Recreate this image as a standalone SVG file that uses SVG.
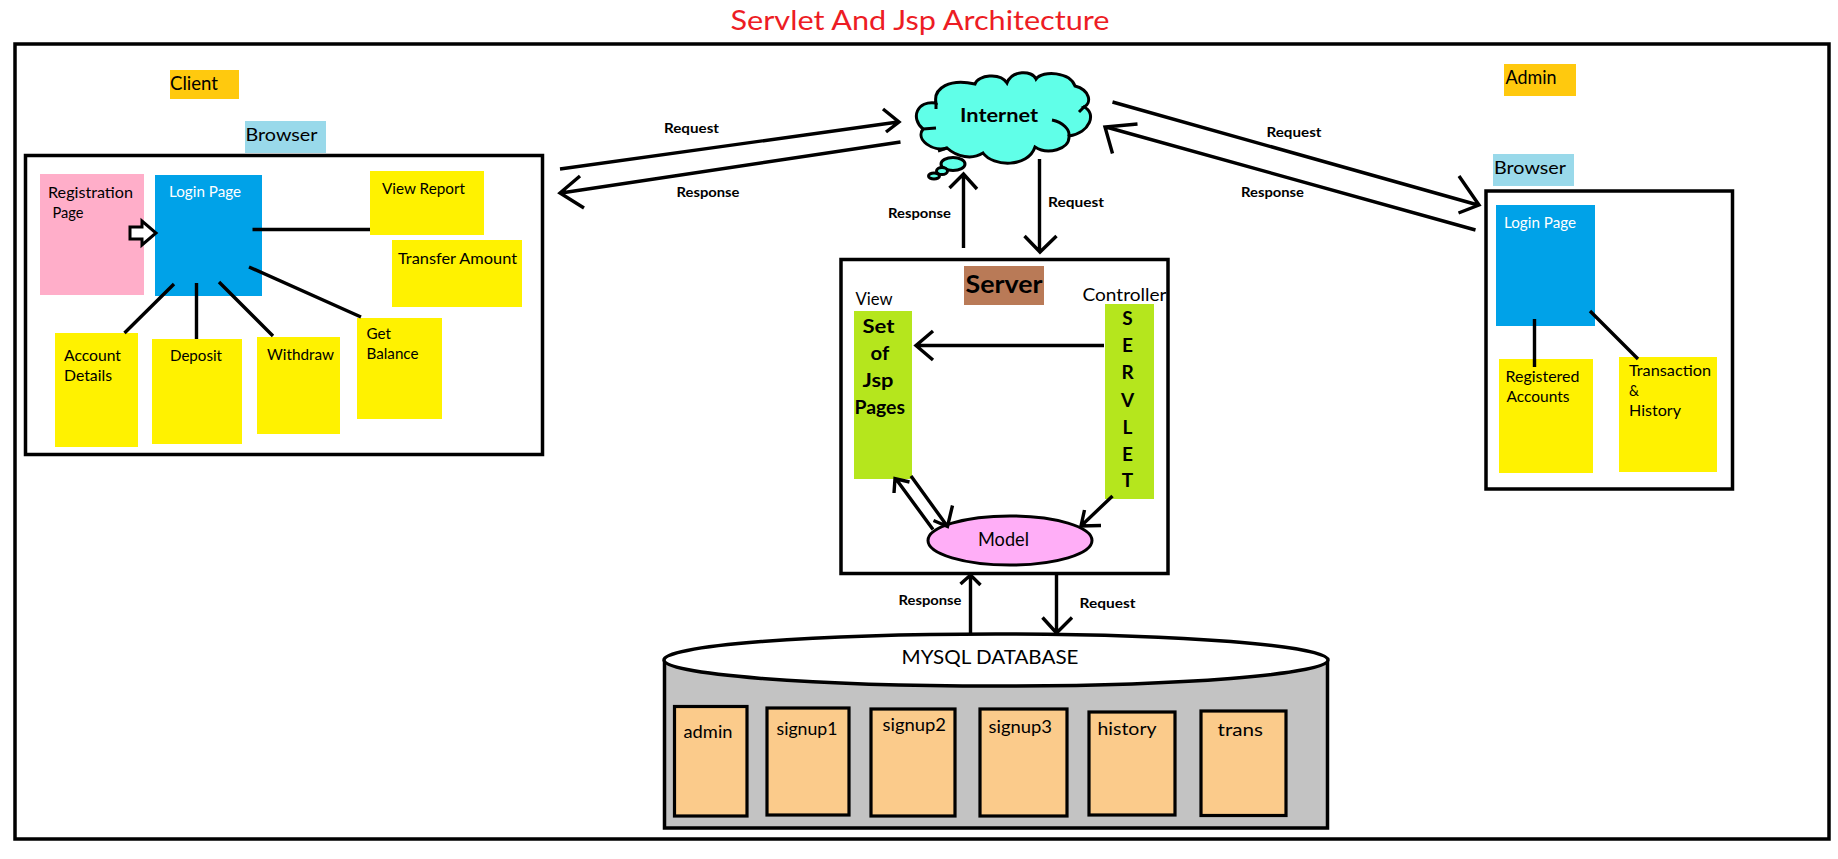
<svg xmlns="http://www.w3.org/2000/svg" width="1838" height="859" viewBox="0 0 1838 859">
<style>
text{font-family:"Lato","Open Sans","DejaVu Sans",sans-serif;fill:#000;font-size:16px}
.lbl{font-size:14px;font-weight:700}
.big{font-size:19px}
.bold{font-weight:700}
.box{fill:#fff;stroke:#000;stroke-width:3.5}
.yel{fill:#FFF200}.blue{fill:#00A2E8}.org{fill:#FFC90E}.sky{fill:#99D9EA}.grn{fill:#B5E61D}
.tbl{fill:#FBCB8B;stroke:#000;stroke-width:3.2}
.ln{fill:none;stroke:#000;stroke-width:3.4;stroke-linecap:butt;stroke-linejoin:miter}
.cl{fill:#60FFE8;stroke:#000;stroke-width:3}
</style>
<rect width="1838" height="859" fill="#fff"/>
<text id="title" x="730.5" y="29.5" style="font-size:27px;fill:#ED1C24" textLength="379" lengthAdjust="spacingAndGlyphs">Servlet And Jsp Architecture</text>
<rect id="frame" class="box" x="15" y="44" width="1814" height="795"/>

<g id="client-label"><rect class="org" x="170" y="70" width="69" height="29"/><text class="big" x="170" y="90" textLength="48" lengthAdjust="spacingAndGlyphs">Client</text></g>
<g id="client-browser-label"><rect class="sky" x="245" y="121" width="81" height="32"/><text x="245.500" y="141" style="font-size:18px" textLength="72" lengthAdjust="spacingAndGlyphs">Browser</text></g>
<rect id="client-browser" class="box" x="25.500" y="155.500" width="517" height="299"/>
<g id="registration-page"><rect fill="#FFAEC9" x="40" y="174" width="104" height="121"/><text x="48" y="198" textLength="85" lengthAdjust="spacingAndGlyphs">Registration</text><text x="52.500" y="217.500" textLength="31" lengthAdjust="spacingAndGlyphs">Page</text></g>
<g id="client-login"><rect class="blue" x="155" y="175" width="107" height="121"/><text style="fill:#fff" x="169" y="196.500" textLength="72" lengthAdjust="spacingAndGlyphs">Login Page</text></g>
<g id="view-report"><rect class="yel" x="370" y="171" width="114" height="64"/><text x="382" y="194" textLength="83" lengthAdjust="spacingAndGlyphs">View Report</text></g>
<g id="transfer-amount"><rect class="yel" x="392" y="240" width="130" height="67"/><text x="398" y="263.500" textLength="119" lengthAdjust="spacingAndGlyphs">Transfer Amount</text></g>
<g id="get-balance"><rect class="yel" x="357" y="318" width="85" height="101"/><text x="366.500" y="339" textLength="24.500" lengthAdjust="spacingAndGlyphs">Get</text><text x="366.500" y="359" textLength="52" lengthAdjust="spacingAndGlyphs">Balance</text></g>
<g id="withdraw"><rect class="yel" x="257" y="337" width="83" height="97"/><text x="267" y="360" textLength="67" lengthAdjust="spacingAndGlyphs">Withdraw</text></g>
<g id="deposit"><rect class="yel" x="152" y="339" width="90" height="105"/><text x="170" y="361" textLength="52" lengthAdjust="spacingAndGlyphs">Deposit</text></g>
<g id="account-details"><rect class="yel" x="55" y="333" width="83" height="114"/><text x="64" y="361" textLength="57" lengthAdjust="spacingAndGlyphs">Account</text><text x="64" y="381" textLength="48" lengthAdjust="spacingAndGlyphs">Details</text></g>

<g id="internet">
<path class="cl" d="M936 103C933 88 950 78 975 84C978 75 1000 72 1007 83C1012 70 1032 70 1036 79C1043 70 1070 72 1075 86C1090 90 1092 103 1084 107C1097 113 1090 133 1069 136C1070 150 1047 155 1035 147C1028 168 993 167 983 153C972 160 957 157 947 148C933 152 915 140 923 129C910 118 917 100 936 103Z"/>
<path class="ln" d="M1079 112L1085 106M1052 120C1063 122 1070 130 1069 136M923 129L936 128M947 148L938 151M936 103L936 109" style="stroke-width:3"/>
<ellipse class="cl" cx="953" cy="164" rx="12" ry="6.500"/>
<ellipse class="cl" cx="942" cy="171" rx="5.500" ry="3.500"/>
<ellipse class="cl" cx="934" cy="176" rx="5.500" ry="3"/>
<text class="big bold" x="960" y="121.500" textLength="78" lengthAdjust="spacingAndGlyphs">Internet</text>
</g>

<rect id="server" class="box" x="841" y="259.500" width="327" height="314"/>
<g id="server-label"><rect fill="#B97A57" x="964" y="266" width="80" height="39"/><text class="bold" x="965.500" y="292.500" style="font-size:25px" textLength="77" lengthAdjust="spacingAndGlyphs">Server</text></g>
<text id="view-label" x="855.500" y="304.500" style="font-size:18px" textLength="37" lengthAdjust="spacingAndGlyphs">View</text>
<text id="controller-label" x="1082.500" y="300.500" style="font-size:18px" textLength="84" lengthAdjust="spacingAndGlyphs">Controller</text>
<g id="jsp-pages"><rect class="grn" x="854" y="311" width="58" height="168"/>
<text class="big bold" x="862.500" y="332.500" textLength="32" lengthAdjust="spacingAndGlyphs">Set</text>
<text class="big bold" x="870.500" y="359.500" textLength="18.700" lengthAdjust="spacingAndGlyphs">of</text>
<text class="big bold" x="862.500" y="386.500" textLength="31" lengthAdjust="spacingAndGlyphs">Jsp</text>
<text class="big bold" x="854.500" y="413.500" textLength="50.500" lengthAdjust="spacingAndGlyphs">Pages</text></g>
<g id="servlet"><rect class="grn" x="1105" y="304" width="49" height="195"/>
<g text-anchor="middle"><text class="big bold" x="1127.500" y="325">S</text><text class="big bold" x="1127.500" y="352">E</text><text class="big bold" x="1127.500" y="379">R</text><text class="big bold" x="1127.500" y="406.500">V</text><text class="big bold" x="1127.500" y="433.500">L</text><text class="big bold" x="1127.500" y="460.500">E</text><text class="big bold" x="1127.500" y="487">T</text></g></g>
<g id="model"><ellipse cx="1010" cy="540.500" rx="82" ry="24.500" fill="#FFAEF7" stroke="#000" stroke-width="3"/><text class="big" x="978" y="546" textLength="51" lengthAdjust="spacingAndGlyphs">Model</text></g>

<g id="admin-label"><rect class="org" x="1504" y="64" width="72" height="32"/><text class="big" x="1505.500" y="83.500" textLength="51" lengthAdjust="spacingAndGlyphs">Admin</text></g>
<g id="admin-browser-label"><rect class="sky" x="1493" y="154" width="81" height="32"/><text x="1494" y="174" style="font-size:18px" textLength="72" lengthAdjust="spacingAndGlyphs">Browser</text></g>
<rect id="admin-browser" class="box" x="1486" y="191" width="246.500" height="298"/>
<g id="admin-login"><rect class="blue" x="1496" y="205" width="99" height="121"/><text style="fill:#fff" x="1504" y="228" textLength="72" lengthAdjust="spacingAndGlyphs">Login Page</text></g>
<g id="registered-accounts"><rect class="yel" x="1499" y="359" width="94" height="114"/><text x="1505.500" y="382" textLength="74" lengthAdjust="spacingAndGlyphs">Registered</text><text x="1506.500" y="402" textLength="63" lengthAdjust="spacingAndGlyphs">Accounts</text></g>
<g id="transaction-history"><rect class="yel" x="1619" y="357" width="98" height="115"/><text x="1629" y="376" textLength="82" lengthAdjust="spacingAndGlyphs">Transaction</text><text x="1629" y="396" textLength="10" lengthAdjust="spacingAndGlyphs">&amp;</text><text x="1629" y="416" textLength="52" lengthAdjust="spacingAndGlyphs">History</text></g>

<g id="database">
<path d="M664.500 660V828H1327.500V660" fill="#C3C3C3" stroke="#000" stroke-width="3.500"/>
<ellipse cx="996" cy="660" rx="332" ry="26" fill="#fff" stroke="#000" stroke-width="3.500"/>
<text class="big" x="901.500" y="664" textLength="177" lengthAdjust="spacingAndGlyphs">MYSQL DATABASE</text>
</g>
<g id="admin-table"><rect class="tbl" x="674.500" y="706.500" width="72.500" height="109.500"/><text style="font-size:18px" x="683.500" y="737.500" textLength="49" lengthAdjust="spacingAndGlyphs">admin</text></g>
<g id="signup1-table"><rect class="tbl" x="767" y="708" width="82" height="107"/><text style="font-size:18px" x="776.500" y="735" textLength="61" lengthAdjust="spacingAndGlyphs">signup1</text></g>
<g id="signup2-table"><rect class="tbl" x="871" y="709" width="84" height="107"/><text style="font-size:18px" x="882.500" y="730.500" textLength="63.500" lengthAdjust="spacingAndGlyphs">signup2</text></g>
<g id="signup3-table"><rect class="tbl" x="980" y="709" width="87" height="107"/><text style="font-size:18px" x="988.500" y="732.500" textLength="63.500" lengthAdjust="spacingAndGlyphs">signup3</text></g>
<g id="history-table"><rect class="tbl" x="1089" y="712" width="86" height="103"/><text style="font-size:18px" x="1097.500" y="735" textLength="59" lengthAdjust="spacingAndGlyphs">history</text></g>
<g id="trans-table"><rect class="tbl" x="1201" y="711" width="85" height="104.500"/><text style="font-size:18px" x="1217.500" y="735.500" textLength="45.500" lengthAdjust="spacingAndGlyphs">trans</text></g>

<g id="connectors">
<path class="ln" d="M252.500 229.500H370M174 284L124.500 333M196.500 283V339M219 282L273 336M249 267L361 317"/>
<path d="M130 227H142V221L156 233L142 245V239H130Z" fill="#fff" stroke="#000" stroke-width="3"/>
<path class="ln" d="M560 169L898 122M883 109L899 122L886 132"/>
<path class="ln" d="M900.500 142L561 193M580 176L560 193L584 208"/>
<path class="ln" d="M963.500 248V174M949.500 188L963.500 174L977 189"/>
<path class="ln" d="M1039.500 159V251M1024.500 236L1040 252L1056.500 236"/>
<path class="ln" d="M1112.500 102L1478 205M1459 176L1479 205L1458.500 213"/>
<path class="ln" d="M1475.500 230L1106 127M1137.500 124L1105 127L1112.500 153.500"/>
<path class="ln" d="M1104 345.500H917M933 331L916 345.500L933 360"/>
<path class="ln" d="M1112.500 496L1081 526M1084.500 510L1081 526L1101 525.500"/>
<path class="ln" d="M933 529.500L896 479M894 493L895 478.500L909.500 482"/>
<path class="ln" d="M911 476L947.500 526.500M952.500 505.500L947.500 526.500L933.500 520.500"/>
<path class="ln" d="M970.500 633V576M960.500 584L970.500 575L980.500 585"/>
<path class="ln" d="M1056.500 575V632M1042.500 617.500L1056.500 633L1072 617.500"/>
<path class="ln" d="M1534.500 319V367M1590 311L1638 359"/>
</g>

<g id="connector-labels">
<text class="lbl" x="664" y="132.500" textLength="55" lengthAdjust="spacingAndGlyphs">Request</text>
<text class="lbl" x="676.500" y="196.500" textLength="63" lengthAdjust="spacingAndGlyphs">Response</text>
<text class="lbl" x="888" y="217.500" textLength="63" lengthAdjust="spacingAndGlyphs">Response</text>
<text class="lbl" x="1048" y="207" textLength="56" lengthAdjust="spacingAndGlyphs">Request</text>
<text class="lbl" x="1266.500" y="136.500" textLength="55" lengthAdjust="spacingAndGlyphs">Request</text>
<text class="lbl" x="1241" y="196.500" textLength="63" lengthAdjust="spacingAndGlyphs">Response</text>
<text class="lbl" x="898.500" y="605" textLength="63" lengthAdjust="spacingAndGlyphs">Response</text>
<text class="lbl" x="1079.500" y="607.500" textLength="56" lengthAdjust="spacingAndGlyphs">Request</text>
</g>
</svg>
